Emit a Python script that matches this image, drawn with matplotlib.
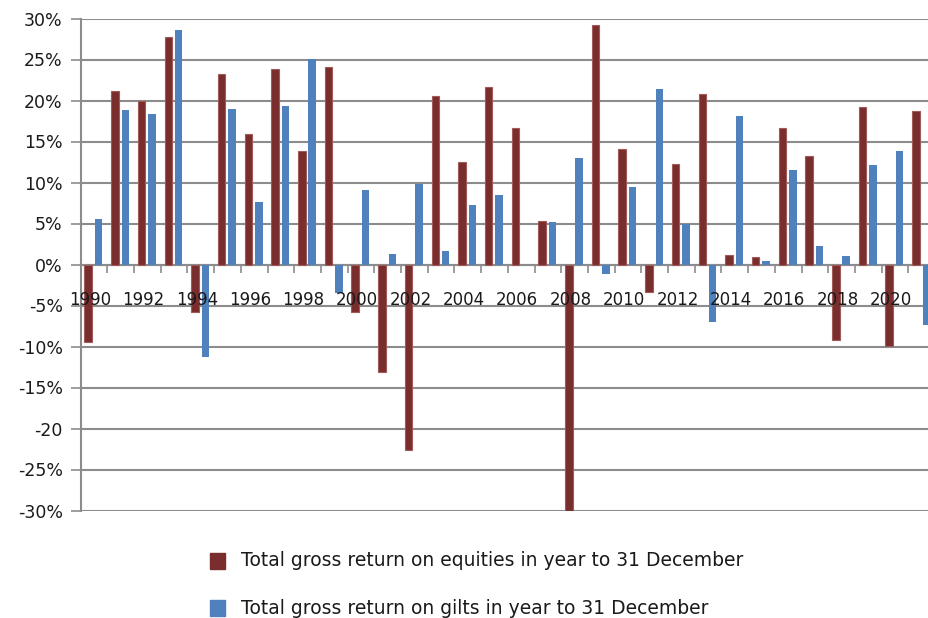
import matplotlib
matplotlib.use("Agg")
import matplotlib.pyplot as plt
from matplotlib.transforms import ScaledTranslation
from matplotlib.patches import Rectangle
import numpy as np

years = list(range(1990, 2022))
equities = [-9.5, 21.2, 19.9, 27.8, -5.8, 23.2, 15.9, 23.8, 13.8, 24.1,
            -5.8, -13.1, -22.6, 20.5, 12.5, 21.7, 16.6, 5.3, -30.0, 29.2,
            14.1, -3.4, 12.3, 20.8, 1.2, 0.9, 16.6, 13.2, -9.2, 19.2,
            -9.9, 18.7]
gilts = [5.5, 18.8, 18.4, 28.6, -11.3, 19.0, 7.6, 19.3, 25.1, -3.5,
         9.1, 1.3, 9.8, 1.6, 7.3, 8.5, -0.1, 5.2, 13.0, -1.1,
         9.4, 21.4, 4.9, -7.0, 18.1, 0.4, 11.5, 2.2, 1.0, 12.1,
         13.9, -7.4]
ytick_vals = [30, 25, 20, 15, 10, 5, 0, -5, -10, -15, -20, -25, -30]
ytick_labels = ["30%", "25%", "20%", "15%", "10%", "5%", "0%", "-5%",
                "-10%", "-15%", "-20", "-25%", "-30%"]
xlabel_years = list(range(1990, 2022, 2))
legend_labels = ["Total gross return on equities in year to 31 December",
                 "Total gross return on gilts in year to 31 December"]

EQ_COLOR = "#7a2d2d"
GILT_COLOR = "#4f81bd"
GRID = "#8c8c8c"
TEXT = "#1a1a1a"
FONT = "DejaVu Sans"

W, H, DPI = 929, 618, 100
fig = plt.figure(figsize=(W / DPI, H / DPI), dpi=DPI)
left_px, right_px = 80.7, 935.1
top_px, bot_px = 18.5, 510.5
ax = fig.add_axes([left_px / W, 1 - bot_px / H,
                   (right_px - left_px) / W, (bot_px - top_px) / H])

x = np.arange(len(years))
bw = 0.28
ax.bar(x - 0.22, equities, width=bw, color=EQ_COLOR, edgecolor="#a05a5a",
       linewidth=0.8, zorder=3)
ax.bar(x + 0.17, gilts, width=bw, color=GILT_COLOR, linewidth=0, zorder=3)

ax.set_xlim(-0.5, len(years) - 0.5)
ax.set_ylim(-30, 30)

ax.set_yticks(ytick_vals)
ax.set_yticklabels(ytick_labels, fontsize=12.5, color=TEXT, family=FONT)
ax.yaxis.grid(True, color=GRID, linewidth=1.5)
ax.tick_params(axis="y", direction="out", length=7, width=1.2, color=GRID,
               pad=6)

for s in ["top", "right"]:
    ax.spines[s].set_visible(False)
ax.spines["left"].set_color(GRID)
ax.spines["left"].set_linewidth(1.5)
ax.spines["left"].set_zorder(2)
ax.spines["bottom"].set_position(("data", 0))
ax.spines["bottom"].set_color(GRID)
ax.spines["bottom"].set_linewidth(1.5)
ax.spines["bottom"].set_zorder(2)

ax.set_xticks(np.arange(len(years) + 1) - 0.5, minor=True)
ax.tick_params(axis="x", which="minor", direction="out", length=6,
               width=1.2, color=GRID)
major_pos = [years.index(y) for y in xlabel_years]
ax.set_xticks(major_pos)
ax.set_xticklabels([str(y) for y in xlabel_years], fontsize=12, color=TEXT,
                   family=FONT)
ax.tick_params(axis="x", which="major", length=0, pad=19)
for lbl in ax.get_xticklabels():
    lbl.set_transform(lbl.get_transform() +
                      ScaledTranslation(-4 / DPI, 0, fig.dpi_scale_trans))
ax.yaxis.set_zorder(0.5)
ax.xaxis.set_zorder(5)

for i, (lab, col) in enumerate(zip(legend_labels, [EQ_COLOR, GILT_COLOR])):
    yc = 561 + i * 47
    fig.patches.append(Rectangle((210 / W, 1 - (yc + 8) / H), 15 / W, 16 / H,
                                 transform=fig.transFigure, color=col))
    fig.text(241 / W, 1 - yc / H, lab, fontsize=13.5, color=TEXT, family=FONT,
             va="center", ha="left")

fig.savefig("out.png", dpi=DPI)
